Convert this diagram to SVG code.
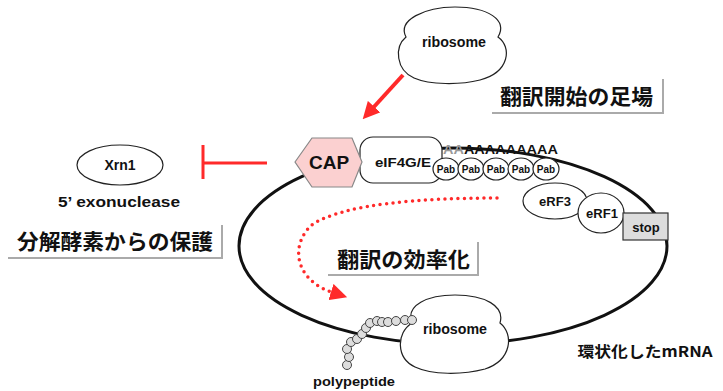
<svg xmlns="http://www.w3.org/2000/svg" width="723" height="391" viewBox="0 0 723 391">
  <style>
    .lat { font-family: "Liberation Sans", Arial, sans-serif; font-weight: bold; fill: #111; }
    .jp { font-family: "Noto Sans CJK JP", "Noto Sans CJK SC", sans-serif; font-weight: bold; fill: #111; }
    .thin { fill: #fff; stroke: #222; stroke-width: 1.2; }
    .shadow { fill: none; stroke: #aaa; stroke-width: 2; }
    .red { stroke: #ff2a2a; fill: none; }
    .bead { fill: #ddd; stroke: #444; stroke-width: 1; }
    .pab { font-size: 10px; }
  </style>
  <defs>
    <marker id="redhead" viewBox="0 0 16 16" refX="3" refY="8" markerWidth="17" markerHeight="17" markerUnits="userSpaceOnUse" orient="auto">
      <path d="M0,0 L16,8 L0,16 z" fill="#ff2a2a"/>
    </marker>
  </defs>

  <!-- circular mRNA -->
  <g id="mrna">
    <ellipse cx="453" cy="246" rx="214" ry="98" fill="none" stroke="#111" stroke-width="3"/>
    <text class="jp" x="645" y="357" font-size="15" text-anchor="middle" textLength="135" lengthAdjust="spacingAndGlyphs">環状化したmRNA</text>
  </g>

  <!-- connectors -->
  <g id="connectors">
    <path class="red" d="M403,75 L372,109" stroke-width="4" marker-end="url(#redhead)"/>
    <path class="red" d="M203,145 L203,179 M203,163 L267,163" stroke-width="3"/>
    <path class="red" d="M497,198 C420,198 345,204 313,224 C290,243 293,280 334,293" stroke-width="3.5" stroke-dasharray="0 6.5" stroke-linecap="round" marker-end="url(#redhead)"/>
  </g>

  <!-- ribosome arriving at the cap -->
  <g id="ribosome-top">
    <path class="thin" d="M406,37 C397,20 425,7 455,7 C488,7 508,20 498,37 C512,47 510,72 480,80 C460,85 430,85 414,78 C396,70 394,47 406,37 Z"/>
    <text class="lat" x="454" y="47" font-size="14" text-anchor="middle" textLength="64" lengthAdjust="spacingAndGlyphs">ribosome</text>
  </g>

  <!-- Xrn1 -->
  <g id="xrn1">
    <ellipse class="thin" cx="120" cy="165" rx="43" ry="20"/>
    <text class="lat" x="120" y="170" font-size="14" text-anchor="middle">Xrn1</text>
    <text class="lat" x="119" y="207" font-size="15" font-weight="normal" text-anchor="middle" textLength="122" lengthAdjust="spacingAndGlyphs">5’ exonuclease</text>
  </g>

  <!-- labels -->
  <g id="label-protect">
    <polyline class="shadow" points="8,258 222,258 222,225"/>
    <text class="jp" x="17" y="249" font-size="21" textLength="196" lengthAdjust="spacingAndGlyphs">分解酵素からの保護</text>
  </g>
  <g id="label-init">
    <polyline class="shadow" points="492,113 663,113 663,79"/>
    <text class="jp" x="500" y="104" font-size="21" textLength="153" lengthAdjust="spacingAndGlyphs">翻訳開始の足場</text>
  </g>
  <g id="label-eff">
    <polyline class="shadow" points="328,275 478,275 478,242"/>
    <text class="jp" x="337" y="267" font-size="21" textLength="133" lengthAdjust="spacingAndGlyphs">翻訳の効率化</text>
  </g>

  <!-- eIF4G/E -->
  <g id="eif4g">
    <rect class="thin" x="360" y="137" width="82" height="46" rx="13"/>
    <text class="lat" x="403" y="167" font-size="13" text-anchor="middle" textLength="56" lengthAdjust="spacingAndGlyphs">eIF4G/E</text>
  </g>

  <!-- cap -->
  <g id="cap">
    <polygon points="295,162 312,138 352,138 362,162 352,187 312,187" fill="#fbd0d0" stroke="#888" stroke-width="1.2"/>
    <text class="lat" x="329" y="169" font-size="19" text-anchor="middle">CAP</text>
  </g>

  <!-- poly(A) tail -->
  <g id="polya">
    <text class="lat" x="443" y="154" font-size="12" textLength="115" lengthAdjust="spacingAndGlyphs"><tspan fill="#999">AA</tspan>AAAAAAAAA</text>
  </g>

  <!-- poly(A) binding proteins -->
  <g id="pab">
    <ellipse class="thin" cx="446" cy="169" rx="13" ry="11"/>
    <text class="lat pab" x="446" y="173" text-anchor="middle">Pab</text>
    <ellipse class="thin" cx="471" cy="169" rx="13" ry="11"/>
    <text class="lat pab" x="471" y="173" text-anchor="middle">Pab</text>
    <ellipse class="thin" cx="496" cy="169" rx="13" ry="11"/>
    <text class="lat pab" x="496" y="173" text-anchor="middle">Pab</text>
    <ellipse class="thin" cx="521" cy="169" rx="13" ry="11"/>
    <text class="lat pab" x="521" y="173" text-anchor="middle">Pab</text>
    <ellipse class="thin" cx="546" cy="169" rx="13" ry="11"/>
    <text class="lat pab" x="546" y="173" text-anchor="middle">Pab</text>
  </g>

  <!-- release factors and stop codon -->
  <g id="erf3">
    <ellipse class="thin" cx="555" cy="201" rx="32" ry="18"/>
    <text class="lat" x="555" y="206" font-size="13" text-anchor="middle">eRF3</text>
  </g>
  <g id="erf1">
    <ellipse class="thin" cx="601" cy="213" rx="23" ry="20"/>
    <text class="lat" x="602" y="218" font-size="13" text-anchor="middle">eRF1</text>
  </g>
  <g id="stop">
    <rect x="623" y="213" width="45" height="27" fill="#ddd" stroke="#333" stroke-width="1.2"/>
    <text class="lat" x="646" y="232" font-size="13" text-anchor="middle">stop</text>
  </g>

  <!-- translating ribosome with nascent chain -->
  <g id="ribosome-bottom">
    <path class="thin" d="M412,323 C405,305 428,295 455,295 C485,295 505,306 500,323 C514,334 512,360 485,369 C462,375 432,375 415,367 C396,358 396,333 412,323 Z"/>
    <text class="lat" x="455" y="334" font-size="14" text-anchor="middle" textLength="64" lengthAdjust="spacingAndGlyphs">ribosome</text>
  </g>
  <g id="polypeptide">
    <circle class="bead" cx="347" cy="365" r="4.5"/>
    <circle class="bead" cx="349" cy="357" r="4.5"/>
    <circle class="bead" cx="347" cy="349" r="4.5"/>
    <circle class="bead" cx="351" cy="342" r="4.5"/>
    <circle class="bead" cx="357" cy="339" r="4.5"/>
    <circle class="bead" cx="362" cy="334" r="4.5"/>
    <circle class="bead" cx="366" cy="328" r="4.5"/>
    <circle class="bead" cx="370" cy="323" r="4.5"/>
    <circle class="bead" cx="377" cy="321" r="4.5"/>
    <circle class="bead" cx="382" cy="322" r="4.5"/>
    <circle class="bead" cx="388" cy="322" r="4.5"/>
    <circle class="bead" cx="396" cy="321" r="4.5"/>
    <circle class="bead" cx="405" cy="320" r="4.5"/>
    <circle class="bead" cx="412" cy="320" r="4.5"/>
    <text class="lat" x="354" y="386" font-size="13" text-anchor="middle" textLength="82" lengthAdjust="spacingAndGlyphs">polypeptide</text>
  </g>
</svg>
